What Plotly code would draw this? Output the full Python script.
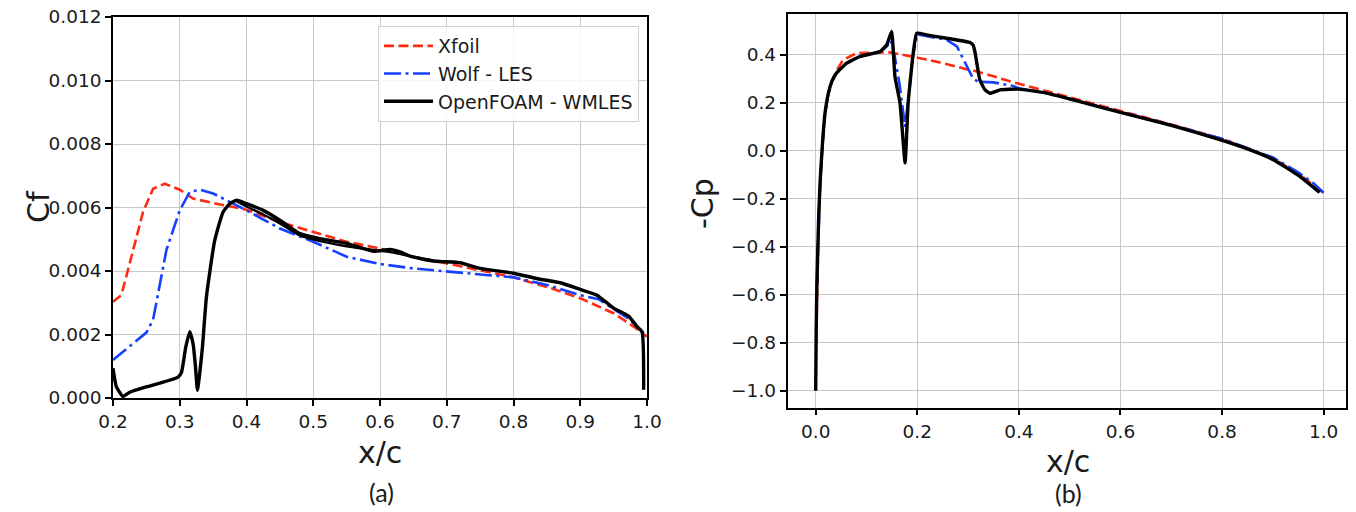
import plotly.graph_objects as go

# ---------------- (a) skin friction ----------------
xfoil_x = [0.200, 0.2125, 0.225, 0.245, 0.260, 0.2775, 0.300, 0.320, 0.355, 0.400, 0.450, 0.500,
           0.550, 0.600, 0.650, 0.700, 0.750, 0.800, 0.850, 0.900, 0.950, 0.980, 1.000]
xfoil_cf = [0.00303, 0.00324, 0.00424, 0.00586, 0.00659, 0.00675, 0.00656, 0.00628, 0.00612, 0.00593,
            0.00554, 0.00523, 0.00492, 0.00471, 0.00445, 0.00424, 0.00403, 0.00380, 0.00350, 0.00314,
            0.00267, 0.00225, 0.00193]

wolf_x = [0.200, 0.250, 0.260, 0.2725, 0.280, 0.300, 0.315, 0.330, 0.350, 0.370, 0.400, 0.450, 0.500,
          0.550, 0.600, 0.650, 0.700, 0.750, 0.800, 0.850, 0.900, 0.9275, 0.950, 0.975, 0.995]
wolf_cf = [0.00120, 0.00206, 0.00246, 0.00382, 0.00466, 0.00591, 0.00649, 0.00656, 0.00644, 0.00623,
           0.00591, 0.00534, 0.00492, 0.00445, 0.00422, 0.00408, 0.00398, 0.00390, 0.00380, 0.00356,
           0.00324, 0.00311, 0.00280, 0.00246, 0.00204]

of_x = [0.200, 0.205, 0.215, 0.225, 0.250, 0.270, 0.2975, 0.3025, 0.309, 0.315, 0.320, 0.3235, 0.3265,
        0.330, 0.334, 0.340, 0.3525, 0.365, 0.375, 0.385, 0.400, 0.425, 0.450, 0.480, 0.510, 0.550,
        0.590, 0.615, 0.630, 0.645, 0.680, 0.720, 0.750, 0.800, 0.840, 0.870, 0.900, 0.925, 0.950,
        0.9725, 0.985, 0.9925, 0.995]
of_cf = [0.00094, 0.00036, 0.00005, 0.00018, 0.00035, 0.00047, 0.00066, 0.00080, 0.00160, 0.00209,
         0.00170, 0.00100, 0.00024, 0.00080, 0.00160, 0.00319, 0.00497, 0.00586, 0.00612, 0.00623,
         0.00612, 0.00591, 0.00560, 0.00518, 0.00502, 0.00487, 0.00462, 0.00468, 0.00460, 0.00447,
         0.00431, 0.00426, 0.00408, 0.00393, 0.00374, 0.00363, 0.00342, 0.00324, 0.00283, 0.00258,
         0.00225, 0.00209, 0.00026]

# second (return) branch of the OpenFOAM curve
of2_x = [0.385, 0.400, 0.425, 0.450, 0.480, 0.510, 0.550, 0.590, 0.620, 0.650, 0.680, 0.720]
of2_cf = [0.00620, 0.00603, 0.00578, 0.00550, 0.00512, 0.00494, 0.00478, 0.00466, 0.00458, 0.00444,
          0.00433, 0.00428]

# ---------------- (b) pressure coefficient (-Cp) ----------------
cp_xfoil_x = [0.001, 0.003, 0.006, 0.009, 0.013, 0.018, 0.025, 0.032, 0.040, 0.054, 0.081, 0.127,
              0.146, 0.205, 0.245, 0.297, 0.310, 0.395, 0.520, 0.600, 0.700, 0.800, 0.900, 0.950, 1.000]
cp_xfoil = [-0.80, -0.50, -0.27, -0.12, 0.02, 0.15, 0.24, 0.29, 0.33, 0.379, 0.407, 0.410,
            0.410, 0.386, 0.368, 0.340, 0.335, 0.282, 0.2125, 0.165, 0.110, 0.050, -0.030, -0.095, -0.175]

cp_wolf_x = [0.002, 0.004, 0.006, 0.009, 0.013, 0.018, 0.025, 0.032, 0.041, 0.061, 0.087, 0.127,
             0.140, 0.148, 0.155, 0.165, 0.176, 0.184, 0.192, 0.200, 0.258, 0.278, 0.297, 0.310,
             0.320, 0.350, 0.389, 0.400, 0.455, 0.520, 0.600, 0.700, 0.800, 0.900, 0.950, 0.980, 1.000]
cp_wolf = [-0.57, -0.42, -0.27, -0.12, 0.02, 0.15, 0.24, 0.29, 0.324, 0.365, 0.393, 0.414,
           0.435, 0.460, 0.400, 0.280, 0.100, 0.250, 0.400, 0.485, 0.462, 0.435, 0.351, 0.300,
           0.288, 0.285, 0.270, 0.260, 0.240, 0.205, 0.162, 0.108, 0.050, -0.028, -0.090, -0.135, -0.175]

cp_of_x = [0.000, 0.001, 0.002, 0.004, 0.006, 0.009, 0.013, 0.018, 0.025, 0.032, 0.041, 0.061, 0.087,
           0.127, 0.140, 0.1495, 0.156, 0.166, 0.176, 0.182, 0.192, 0.199, 0.218, 0.258, 0.304,
           0.310, 0.314, 0.323, 0.333, 0.343, 0.363, 0.400, 0.455, 0.520, 0.600, 0.700, 0.797,
           0.850, 0.901, 0.953, 0.992]
cp_of = [-1.00, -0.75, -0.60, -0.42, -0.27, -0.12, 0.02, 0.15, 0.24, 0.29, 0.324, 0.365, 0.393,
         0.414, 0.442, 0.497, 0.310, 0.199, -0.050, 0.199, 0.407, 0.490, 0.483, 0.469, 0.451,
         0.440, 0.407, 0.296, 0.255, 0.240, 0.254, 0.257, 0.240, 0.205, 0.160, 0.106, 0.046,
         0.008, -0.037, -0.107, -0.174]

cf_ticks = [0.000, 0.002, 0.004, 0.006, 0.008, 0.010, 0.012]
xa_ticks = [0.2, 0.3, 0.4, 0.5, 0.6, 0.7, 0.8, 0.9, 1.0]
cp_ticks = [-1.0, -0.8, -0.6, -0.4, -0.2, 0.0, 0.2, 0.4]
xb_ticks = [0.0, 0.2, 0.4, 0.6, 0.8, 1.0]

RED = "#ff2a12"
BLUE = "#1540ff"
BLACK = "#000000"
red_dash = "10px,4.5px"
blue_dash = "17px,4.5px,3px,4.5px"
LW = 2.6
LW_BLACK = 3.4

fig = go.Figure()

fig.add_trace(go.Scatter(x=xfoil_x, y=xfoil_cf, mode="lines", name="Xfoil",
                         line=dict(color=RED, width=LW, dash=red_dash), xaxis="x", yaxis="y"))
fig.add_trace(go.Scatter(x=wolf_x, y=wolf_cf, mode="lines", name="Wolf - LES",
                         line=dict(color=BLUE, width=LW, dash=blue_dash), xaxis="x", yaxis="y"))
fig.add_trace(go.Scatter(x=of_x, y=of_cf, mode="lines", name="OpenFOAM - WMLES",
                         line=dict(color=BLACK, width=LW_BLACK, shape="spline", smoothing=0.5),
                         xaxis="x", yaxis="y"))
fig.add_trace(go.Scatter(x=of2_x, y=of2_cf, mode="lines", showlegend=False,
                         line=dict(color=BLACK, width=2.4, shape="spline", smoothing=0.5),
                         xaxis="x", yaxis="y"))

fig.add_trace(go.Scatter(x=cp_xfoil_x, y=cp_xfoil, mode="lines", showlegend=False,
                         line=dict(color=RED, width=LW, dash=red_dash), xaxis="x2", yaxis="y2"))
fig.add_trace(go.Scatter(x=cp_wolf_x, y=cp_wolf, mode="lines", showlegend=False,
                         line=dict(color=BLUE, width=LW, dash=blue_dash), xaxis="x2", yaxis="y2"))
fig.add_trace(go.Scatter(x=cp_of_x, y=cp_of, mode="lines", showlegend=False,
                         line=dict(color=BLACK, width=LW_BLACK, shape="spline", smoothing=0.4),
                         xaxis="x2", yaxis="y2"))

W, H = 1356, 512
TICKFONT = dict(family="DejaVu Sans", size=18.5, color="#1a1a1a")
axis_common = dict(showline=True, mirror=True, linecolor="black", linewidth=1.5,
                   ticks="outside", ticklen=6, tickcolor="black", tickwidth=1.5,
                   showgrid=True, gridcolor="#c8c8c8", gridwidth=1.2, zeroline=False,
                   tickfont=TICKFONT, automargin=False)

fig.update_layout(
    template="none",
    width=W, height=H,
    margin=dict(l=0, r=0, t=0, b=0, pad=0, autoexpand=False),
    paper_bgcolor="white", plot_bgcolor="white",
    xaxis=dict(domain=[113 / W, 647 / W], range=[0.2, 1.0], tickvals=xa_ticks,
               tickformat=".1f", anchor="y", **axis_common),
    yaxis=dict(domain=[1 - 398 / H, 1 - 17 / H], range=[0.0, 0.012], tickvals=cf_ticks,
               tickformat=".3f", anchor="x", **axis_common),
    xaxis2=dict(domain=[787.5 / W, 1346 / W], range=[-0.0555, 1.044], tickvals=xb_ticks,
                tickformat=".1f", anchor="y2", **axis_common),
    yaxis2=dict(domain=[1 - 407.6 / H, 1 - 14 / H], range=[-1.07, 0.57], tickvals=cp_ticks,
                tickformat=".1f", anchor="x2", **axis_common),
    legend=dict(x=378 / W, y=1 - 26 / H, xanchor="left", yanchor="top",
                bgcolor="rgba(255,255,255,0.85)", bordercolor="#d0d0d0", borderwidth=1,
                itemwidth=49,
                font=dict(family="DejaVu Sans", size=19, color="#1a1a1a")),
    showlegend=True,
)

TITLEFONT = dict(family="DejaVu Sans", size=30, color="#1a1a1a")
CAPFONT = dict(family="Lato", size=25, color="#1a1a1a")
annos = [
    dict(text="Cf", x=38 / W, y=1 - 207 / H, textangle=-90, font=TITLEFONT),
    dict(text="x/c", x=380 / W, y=1 - 452 / H, font=TITLEFONT),
    dict(text="(a)", x=381 / W, y=1 - 492 / H, font=CAPFONT),
    dict(text="-Cp", x=702 / W, y=1 - 204 / H, textangle=-90, font=TITLEFONT),
    dict(text="x/c", x=1068 / W, y=1 - 461 / H, font=TITLEFONT),
    dict(text="(b)", x=1068 / W, y=1 - 493 / H, font=CAPFONT),
]
for a in annos:
    fig.add_annotation(xref="paper", yref="paper", xanchor="center", yanchor="middle",
                       showarrow=False, **a)

fig.write_html("out.html",
               config={"displayModeBar": False},
               post_script="document.body.style.margin='0px';document.body.style.padding='0px';"
                           "document.body.style.overflow='hidden';")
